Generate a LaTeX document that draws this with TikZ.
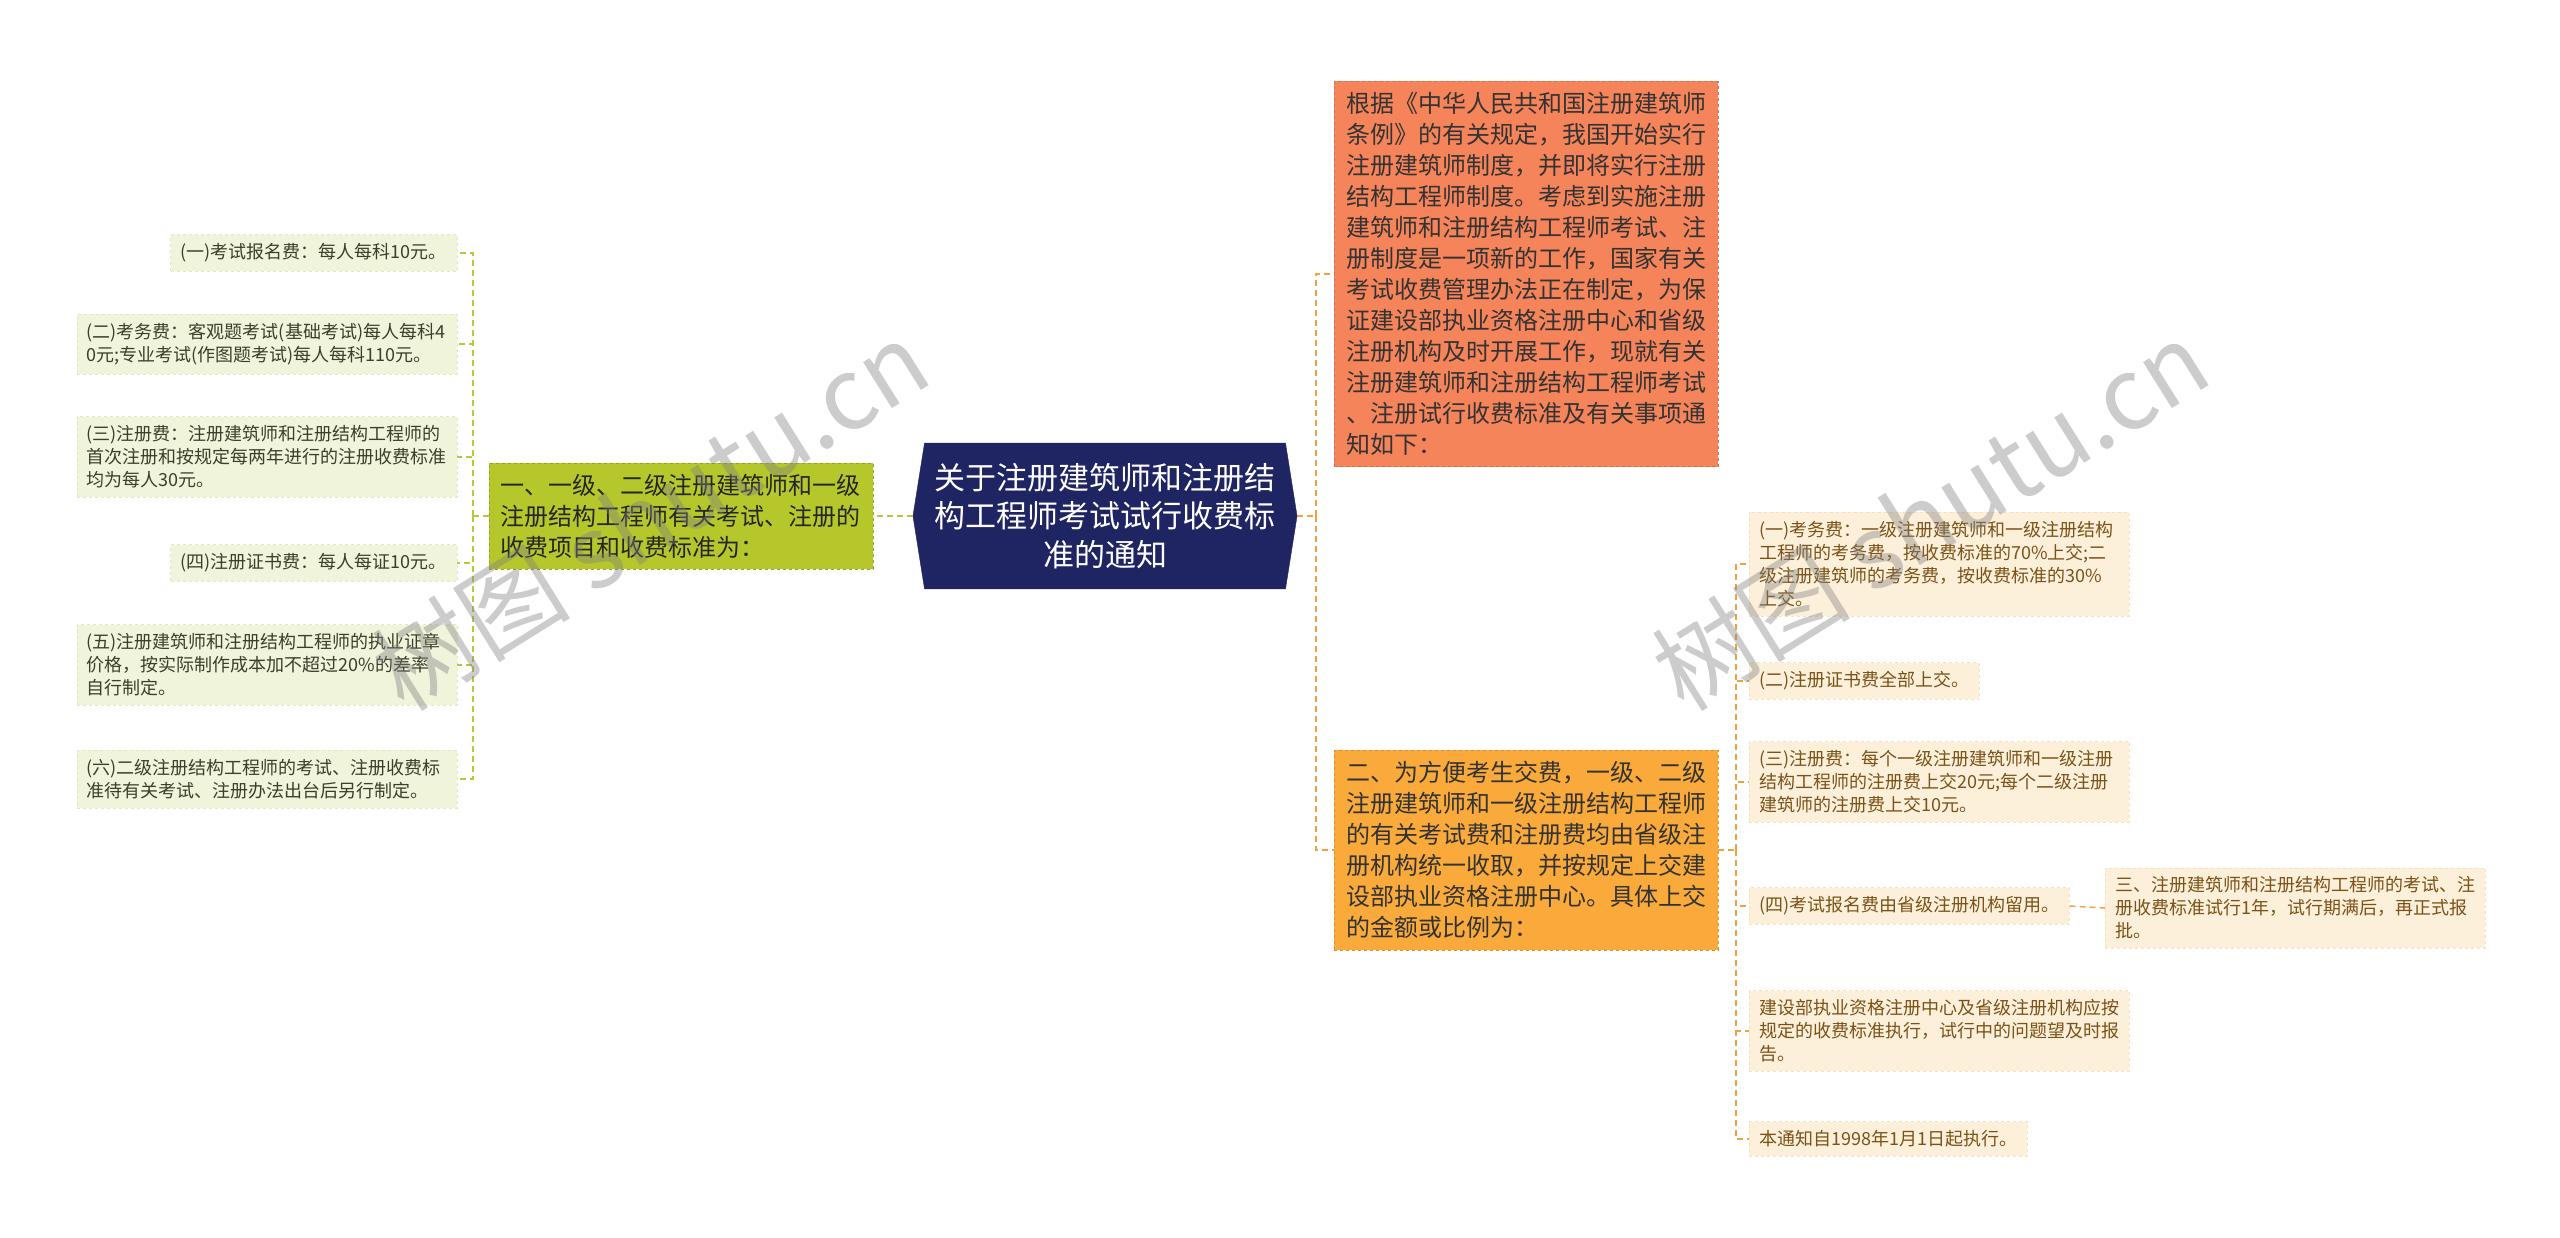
\documentclass[tikz,border=0pt]{standalone}
\usepackage{fontspec}
\setmainfont{Noto Sans CJK SC}
\usetikzlibrary{shapes.symbols}

\definecolor{rootblue}{HTML}{1F2462}
\definecolor{topicgreen}{HTML}{B5C72B}
\definecolor{topiccoral}{HTML}{F5845A}
\definecolor{topicamber}{HTML}{F9AA3B}
\definecolor{leafgreen}{HTML}{EFF4DA}
\definecolor{leafgreenrim}{HTML}{E1E9C2}
\definecolor{leafgreentext}{HTML}{3D3D2B}
\definecolor{leafamber}{HTML}{FDF0DA}
\definecolor{leafamberrim}{HTML}{F7E1BF}
\definecolor{leafambertext}{HTML}{7B5217}
\definecolor{linkgreen}{HTML}{B9C83A}
\definecolor{linkamber}{HTML}{F0A33C}

\tikzset{
  root/.style={signal, signal to=west and east, signal pointer angle=162,
    fill=rootblue, draw=rootblue, text=white, align=center,
    font=\fontsize{31}{38.5}\selectfont, text width=345pt,
    inner xsep=8pt, inner ysep=20pt},
  topic/.style={draw, dashed, align=left, text width=360pt,
    font=\fontsize{24}{31}\selectfont, inner xsep=12pt, inner ysep=11pt},
  leafleft/.style={fill=leafgreen, draw=leafgreenrim, dashed,
    text=leafgreentext, align=left, font=\fontsize{18}{23}\selectfont,
    inner xsep=10pt, inner ysep=9pt},
  leafright/.style={fill=leafamber, draw=leafamberrim, dashed,
    text=leafambertext, align=left, font=\fontsize{18}{23}\selectfont,
    inner xsep=10pt, inner ysep=9pt},
  wide/.style={text width=360pt},
  linkl/.style={draw=linkgreen, line width=1.5pt, dash pattern=on 6pt off 4pt},
  linkr/.style={draw=linkamber, line width=1.5pt, dash pattern=on 6pt off 4pt},
  wmark/.style={text=gray, opacity=0.4, font=\fontsize{100}{100}\selectfont}
}

\begin{document}
\begin{tikzpicture}[x=1pt, y=-1pt]
  \path[fill=white] (0,0) rectangle (2560,1238);
  \useasboundingbox (0,0) rectangle (2560,1238);

  % centre
  \node[root] (root) at (1105,516)
    {关于注册建筑师和注册结\\构工程师考试试行收费标\\准的通知};

  % left branch
  \node[topic, fill=topicgreen, draw=linkgreen!80!black, text=black!85,
    anchor=east] (fees) at (873,516)
    {一、一级、二级注册建筑师和一级\\注册结构工程师有关考试、注册的\\收费项目和收费标准为：};

  \node[leafleft, anchor=east] (fee1) at (457,253)
    {(一)考试报名费：每人每科10元。};
  \node[leafleft, wide, anchor=east] (fee2) at (457,344)
    {(二)考务费：客观题考试(基础考试)每人每科4\\0元;专业考试(作图题考试)每人每科110元。};
  \node[leafleft, wide, anchor=east] (fee3) at (457,457)
    {(三)注册费：注册建筑师和注册结构工程师的\\首次注册和按规定每两年进行的注册收费标准\\均为每人30元。};
  \node[leafleft, anchor=east] (fee4) at (457,563)
    {(四)注册证书费：每人每证10元。};
  \node[leafleft, wide, anchor=east] (fee5) at (457,665)
    {(五)注册建筑师和注册结构工程师的执业证章\\价格，按实际制作成本加不超过20\%的差率\\自行制定。};
  \node[leafleft, wide, anchor=east] (fee6) at (457,779)
    {(六)二级注册结构工程师的考试、注册收费标\\准待有关考试、注册办法出台后另行制定。};

  % right branch
  \node[topic, fill=topiccoral, draw=topiccoral!85!black, text=black!80,
    anchor=west] (intro) at (1334,274)
    {根据《中华人民共和国注册建筑师\\条例》的有关规定，我国开始实行\\注册建筑师制度，并即将实行注册\\结构工程师制度。考虑到实施注册\\建筑师和注册结构工程师考试、注\\册制度是一项新的工作，国家有关\\考试收费管理办法正在制定，为保\\证建设部执业资格注册中心和省级\\注册机构及时开展工作，现就有关\\注册建筑师和注册结构工程师考试\\、注册试行收费标准及有关事项通\\知如下：};
  \node[topic, fill=topicamber, draw=topicamber!85!black, text=black!80,
    anchor=west] (collect) at (1334,850)
    {二、为方便考生交费，一级、二级\\注册建筑师和一级注册结构工程师\\的有关考试费和注册费均由省级注\\册机构统一收取，并按规定上交建\\设部执业资格注册中心。具体上交\\的金额或比例为：};

  \node[leafright, wide, anchor=west] (pay1) at (1749,564)
    {(一)考务费：一级注册建筑师和一级注册结构\\工程师的考务费，按收费标准的70\%上交;二\\级注册建筑师的考务费，按收费标准的30\%\\上交。};
  \node[leafright, anchor=west] (pay2) at (1749,681)
    {(二)注册证书费全部上交。};
  \node[leafright, wide, anchor=west] (pay3) at (1749,782)
    {(三)注册费：每个一级注册建筑师和一级注册\\结构工程师的注册费上交20元;每个二级注册\\建筑师的注册费上交10元。};
  \node[leafright, anchor=west] (pay4) at (1749,906)
    {(四)考试报名费由省级注册机构留用。};
  \node[leafright, wide, anchor=west] (trial) at (2105,908)
    {三、注册建筑师和注册结构工程师的考试、注\\册收费标准试行1年，试行期满后，再正式报\\批。};
  \node[leafright, wide, anchor=west] (report) at (1749,1031)
    {建设部执业资格注册中心及省级注册机构应按\\规定的收费标准执行，试行中的问题望及时报\\告。};
  \node[leafright, anchor=west] (start) at (1749,1139)
    {本通知自1998年1月1日起执行。};

  % connectors
  \coordinate (lj) at (473,516);
  \coordinate (rj) at (1316,516);
  \coordinate (cj) at (1736,850);
  \draw[linkl] (root.west) -- (fees.east);
  \draw[linkl] (fees.west) -- (lj);
  \foreach \n in {fee1,fee2,fee3,fee4,fee5,fee6}
    \draw[linkl] (lj) |- (\n.east);
  \draw[linkr] (root.east) -- (rj);
  \foreach \n in {intro,collect}
    \draw[linkr] (rj) |- (\n.west);
  \draw[linkr] (collect.east) -- (cj);
  \foreach \n in {pay1,pay2,pay3,pay4,report,start}
    \draw[linkr] (cj) |- (\n.west);
  \draw[linkr] (pay4.east) -- (trial.west);

  % watermark
  \node[wmark, rotate=32] (wm1) at (650,515) {树图 shutu.cn};
  \node[wmark, rotate=32] (wm2) at (1930,515) {树图 shutu.cn};
\end{tikzpicture}
\end{document}
